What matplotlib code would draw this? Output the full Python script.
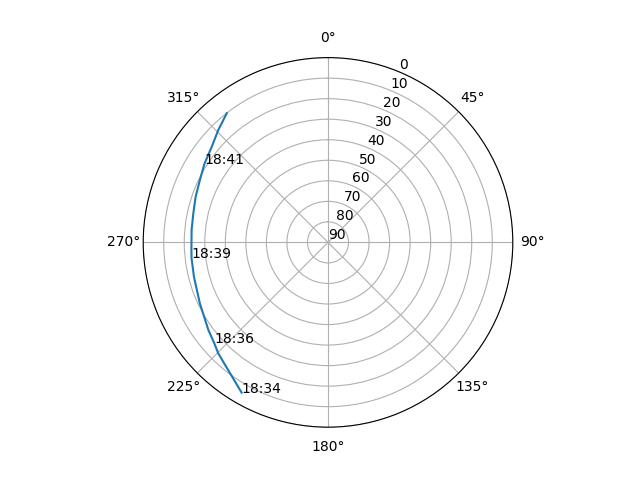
import matplotlib
matplotlib.use("Agg")
import matplotlib.pyplot as plt
import numpy as np

# satellite pass: azimuth (deg, clockwise from N) and elevation (deg)
azimuth = [209.9, 216.8, 224.7, 228.7, 233.8, 244.6, 255.6, 263.4, 267.2,
           275.2, 282.2, 289.1, 296.0, 302.4, 309.4, 315.7, 321.9]
elevation = [5.6, 10.4, 14.0, 16.1, 17.8, 20.9, 22.6, 23.1, 23.4,
             23.3, 22.9, 21.8, 20.6, 18.7, 16.7, 13.5, 10.1]
time_labels = ["18:34", "", "", "18:36", "", "", "", "18:39", "",
               "", "", "", "", "18:41", "", "", ""]

fig = plt.figure(figsize=(6.4, 4.8), dpi=100)
ax = fig.add_subplot(projection="polar")
ax.set_theta_zero_location("N")
ax.set_theta_direction(-1)

theta = np.radians(azimuth)
ax.plot(theta, elevation)
for t, r, lab in zip(theta, elevation, time_labels):
    if lab:
        ax.text(t, r, lab)

ax.set_rlim(90, 0)
ax.set_rticks(range(0, 91, 10))

fig.savefig("out.png")
